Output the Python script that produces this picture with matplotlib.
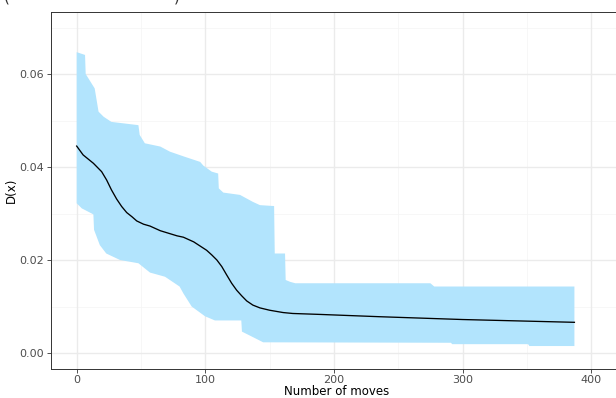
import matplotlib
matplotlib.use("Agg")
import matplotlib.pyplot as plt
import numpy as np

# Upper edge of the range ribbon
upper_x = [0, 6.5, 7, 14, 17, 21, 27, 48, 49, 53, 65, 72.5, 84, 96, 98.5, 105, 110, 110.5,
           114, 127, 137, 142.5, 153.5, 154, 162, 162.5, 166, 170, 275, 278, 387]
upper_y = [0.0647, 0.0641, 0.0600, 0.0569, 0.0519, 0.0508, 0.0497, 0.0490, 0.0469, 0.0451,
           0.0444, 0.0433, 0.0422, 0.0411, 0.0403, 0.0390, 0.0386, 0.0354,
           0.0345, 0.0340, 0.0325, 0.0318, 0.0316, 0.0214, 0.0214, 0.0157, 0.0153, 0.0150,
           0.0150, 0.0143, 0.0143]

# Lower edge of the range ribbon
lower_x = [0, 4, 11.7, 13, 13.5, 18, 23, 33.7, 48, 57, 68.7, 80, 83, 89.4, 99.8, 107.5,
           128, 128.5, 138.6, 145, 291, 292, 351, 352, 387]
lower_y = [0.0322, 0.0311, 0.0300, 0.0298, 0.0265, 0.0232, 0.0214, 0.0200, 0.0193, 0.0173,
           0.0164, 0.0143, 0.0128, 0.0100, 0.0079, 0.0070,
           0.0070, 0.0046, 0.0032, 0.0023, 0.0022, 0.0019, 0.0019, 0.0015, 0.0015]

# Mean curve
mean_x = [0, 5, 13, 19.4, 23.3, 27, 31.1, 35, 38.9, 43, 46.7, 52, 57, 65, 78, 83, 91, 101,
          105, 109, 112.8, 116.6, 120.5, 124.4, 128.3, 132.2, 137, 142.5, 150, 160.5, 168,
          189, 236, 300, 387]
mean_y = [0.0445, 0.0426, 0.0408, 0.0390, 0.0372, 0.0351, 0.0331, 0.0315, 0.0302, 0.0293,
          0.0284, 0.0277, 0.0273, 0.0263, 0.0252, 0.0249, 0.0239, 0.0221,
          0.0211, 0.0200, 0.0186, 0.0168, 0.0150, 0.0135, 0.0123, 0.0112, 0.0103, 0.0097,
          0.0092, 0.0087, 0.0085, 0.0083, 0.0078, 0.0072, 0.0066]

x_ticks = [0, 100, 200, 300, 400]
y_ticks = [0.00, 0.02, 0.04, 0.06]
y_tick_labels = ["0.00", "0.02", "0.04", "0.06"]

fig = plt.figure(figsize=(6.16, 3.98), dpi=100)
W, H = 616, 398
left_px, right_px, top_px, bottom_px = 50.7, 622, 11.7, 369
ax = fig.add_axes([left_px / W, 1 - bottom_px / H, (right_px - left_px) / W, (bottom_px - top_px) / H])

ax.set_xlim(-20.2, 424.0)
ax.set_ylim(-0.00344, 0.0734)

# grid
for v in [50, 150, 250, 350]:
    ax.axvline(v, color="#F5F5F5", lw=0.55, zorder=0)
for v in [0.01, 0.03, 0.05, 0.07]:
    ax.axhline(v, color="#F5F5F5", lw=0.55, zorder=0)
for v in x_ticks:
    ax.axvline(v, color="#EBEBEB", lw=1.0, zorder=0)
for v in y_ticks:
    ax.axhline(v, color="#EBEBEB", lw=1.0, zorder=0)

poly_x = list(upper_x) + list(lower_x[::-1])
poly_y = list(upper_y) + list(lower_y[::-1])
ax.fill(poly_x, poly_y, color="#B2E4FD", lw=0, zorder=2)
ax.plot(mean_x, mean_y, color="black", lw=0.95, zorder=3, solid_joinstyle="round")

ax.set_xticks(x_ticks)
ax.set_xticklabels([str(v) for v in x_ticks])
ax.set_yticks(y_ticks)
ax.set_yticklabels(y_tick_labels)
ax.tick_params(axis="both", length=3, width=0.6, color="#333333", labelsize=8,
               labelcolor="#4D4D4D", pad=2)
ax.tick_params(axis="x", pad=1.5)
for s in ax.spines.values():
    s.set_color("#333333")
    s.set_linewidth(0.7)

ax.set_xlabel("Number of moves", fontsize=8.5, color="black", labelpad=0)
ax.set_ylabel("D(x)", fontsize=8.5, color="black", labelpad=1)

# clipped title remnant at the very top
fig.text(4 / W, 1 - 1.0 / H, "(", fontsize=11, color="#333333", ha="left", va="baseline")
fig.text(174 / W, 1 - 1.0 / H, ")", fontsize=11, color="#333333", ha="left", va="baseline")

fig.savefig("out.png", dpi=100)
